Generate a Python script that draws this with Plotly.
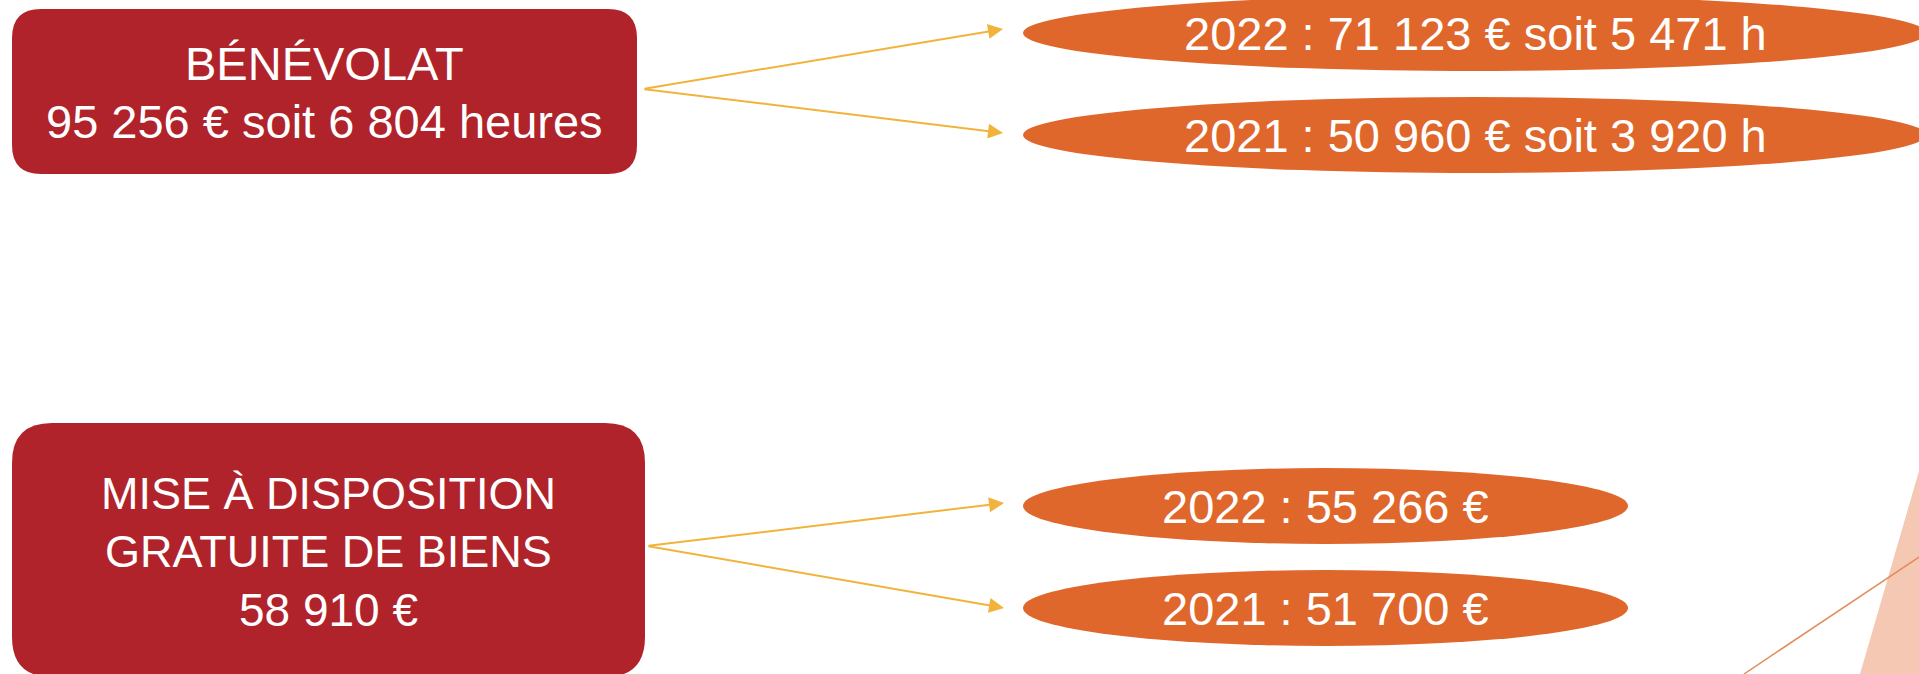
import plotly.graph_objects as go

# ---- data ----
categories = ["BÉNÉVOLAT", "MISE À DISPOSITION|GRATUITE DE BIENS"]
total_eur = [95256, 58910]
total_hours = [6804, None]
years = [2022, 2021]
benevolat_eur = [71123, 50960]
benevolat_hours = [5471, 3920]
biens_eur = [55266, 51700]

W, H = 1919, 674
BOX = "#B0232A"
ELL = "#E0672C"
ARR = "#F2B33D"
FONT = "Liberation Sans"


def fmt(n):
    return f"{n:,}".replace(",", " ")


def rrect(x0, y0, x1, y1, r):
    return (f"M{x0+r},{y0} L{x1-r},{y0} Q{x1},{y0} {x1},{y0+r} "
            f"L{x1},{y1-r} Q{x1},{y1} {x1-r},{y1} L{x0+r},{y1} "
            f"Q{x0},{y1} {x0},{y1-r} L{x0},{y0+r} Q{x0},{y0} {x0+r},{y0} Z")


shapes = []
annotations = []


def text(x, y, s, fs=47):
    annotations.append(dict(x=x, y=y, xref="x", yref="y", text=s, showarrow=False,
                            xanchor="center", yanchor="middle",
                            font=dict(family=FONT, size=fs, color="white")))


def arrow(x0, y0, x1, y1):
    annotations.append(dict(x=x1, y=y1, ax=x0, ay=y0, xref="x", yref="y",
                            axref="x", ayref="y", text="", showarrow=True,
                            arrowhead=2, arrowsize=1.5, arrowwidth=2,
                            arrowcolor=ARR, standoff=0, startstandoff=0))


# decorative shapes bottom-right
shapes.append(dict(type="path", path="M1860,674 L1919,471 L1919,674 Z",
                   fillcolor="#F4C8B3", line=dict(width=0), layer="below"))
shapes.append(dict(type="line", x0=1744, y0=674, x1=1919, y1=557,
                   line=dict(color="#E58A5C", width=1.5)))

# ---- block 1 : bénévolat ----
shapes.append(dict(type="path", path=rrect(12, 9, 637, 174, 29),
                   fillcolor=BOX, line=dict(width=0)))
text(324, 63, categories[0])
text(324, 121, f"{fmt(total_eur[0])} € soit {fmt(total_hours[0])} heures")

ell1_y = [33, 135]
for i, yc in enumerate(ell1_y):
    shapes.append(dict(type="circle", x0=1023, x1=1926, y0=yc - 38, y1=yc + 38,
                       fillcolor=ELL, line=dict(width=0)))
    text(1475, yc, f"{years[i]} : {fmt(benevolat_eur[i])} € soit {fmt(benevolat_hours[i])} h")
    arrow(643, 89, 1003, [29, 133][i])

# ---- block 2 : mise à disposition ----
shapes.append(dict(type="path", path=rrect(12, 423, 645, 677, 40),
                   fillcolor=BOX, line=dict(width=0)))
l1, l2 = categories[1].split("|")
text(328, 493, l1, 45)
text(328, 551, l2, 45)
text(328, 610, f"{fmt(total_eur[1])} €", 46)

ell2_y = [506, 608]
for i, yc in enumerate(ell2_y):
    shapes.append(dict(type="circle", x0=1023, x1=1628, y0=yc - 38, y1=yc + 38,
                       fillcolor=ELL, line=dict(width=0)))
    text(1325, yc, f"{years[i]} : {fmt(biens_eur[i])} €")
    arrow(647, 546, 1004, [503, 608][i])

fig = go.Figure()
fig.update_layout(
    width=W, height=H, margin=dict(l=0, r=0, t=0, b=0),
    paper_bgcolor="white", plot_bgcolor="white",
    xaxis=dict(range=[0, W], visible=False, fixedrange=True),
    yaxis=dict(range=[H, 0], visible=False, fixedrange=True),
    shapes=shapes, annotations=annotations, showlegend=False,
)
fig.write_html("out.html", config={"displayModeBar": False},
               post_script="document.body.style.margin='0';document.body.style.overflow='hidden';")
